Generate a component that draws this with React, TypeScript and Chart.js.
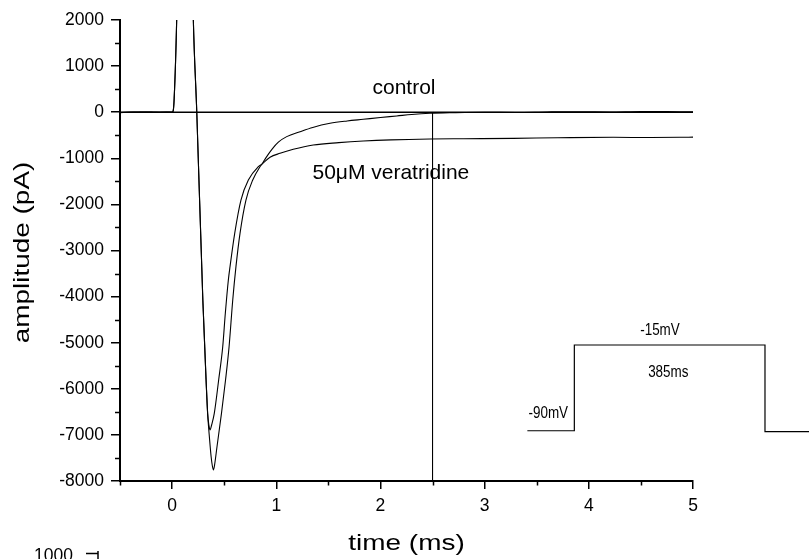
import React, { useEffect, useRef } from "react";
import { Chart, registerables } from "chart.js";

Chart.register(...registerables);

const W = 809;
const H = 559;
const FONT = "'Liberation Sans', Arial, Helvetica, sans-serif";

// ---- data (time in ms, amplitude in pA) ----
const controlTime = [
  -0.5, -0.4, -0.3, -0.2, -0.1, 0, 0.01, 0.02, 0.045, 0.12, 0.204, 0.237, 0.295, 0.326, 0.341,
  0.36, 0.375, 0.387, 0.397, 0.408, 0.431, 0.474, 0.513, 0.547, 0.582, 0.613, 0.652, 0.709,
  0.774, 0.844, 0.863, 0.9, 0.96, 1.02, 1.1, 1.228, 1.35, 1.516, 1.68, 1.835, 2.0, 2.156, 2.3,
  2.476, 2.7, 3.0, 3.3, 3.6, 3.915, 4.2, 4.5, 4.875, 5.0,
];
const controlAmp = [
  -5, 5, -5, 8, 0, 5, 25, 300, 2100, 12000, 2000, 0, -4070, -5800, -6530,
  -7100, -7480, -7680, -7760, -7650, -7256, -6532, -5809, -5087, -4078, -3351, -2627, -1905,
  -1471, -1182, -1125, -990, -800, -650, -530, -423, -330, -241, -190, -154, -115, -82, -50,
  -24, -10, 0, -5, 5, 11, 5, 15, 11, 10,
];
const veraTime = [
  -0.5, -0.4, -0.3, -0.2, -0.1, 0, 0.01, 0.02, 0.045, 0.12, 0.204, 0.237, 0.295, 0.326, 0.341,
  0.354, 0.364, 0.38, 0.405, 0.447, 0.486, 0.511, 0.54, 0.556, 0.601, 0.661, 0.732, 0.828,
  0.863, 0.94, 1.036, 1.163, 1.355, 1.6, 1.835, 2.1, 2.476, 2.8, 3.275, 3.7, 4.235, 4.6, 4.875, 5.0,
];
const veraAmp = [
  -10, 0, 8, -5, 5, 0, 25, 300, 2100, 12000, 2000, 0, -4070, -5800, -6530,
  -6800, -6894, -6780, -6532, -5809, -5087, -4362, -3640, -3351, -2627, -1905, -1471, -1182,
  -1125, -978, -892, -805, -711, -660, -625, -600, -581, -575, -567, -555, -545, -550, -545, -540,
];
// voltage protocol inset (listed right to left)
const protocolTime = [6.2, 5.691, 5.691, 3.861, 3.861, 3.41];
const protocolAmp = [-6930, -6930, -5050, -5050, -6910, -6910];
// reference lines
const zeroTime = [-0.5, 5];
const zeroAmp = [0, 0];
const markerTime = [2.5, 2.5];
const markerAmp = [0, -8000];

// minor ticks
const xMinorTicks = [-0.5, 0.5, 1.5, 2.5, 3.5, 4.5];
const yMinorTicks = [-7500, -6500, -5500, -4500, -3500, -2500, -1500, -500, 500, 1500];

// annotations
const bigLabels = ["control", "50\u03bcM veratridine"];
const bigLabelTime = [2.226, 2.1];
const bigLabelAmp = [525, -1325];
const insetLabels = ["-15mV", "385ms", "-90mV"];
const insetLabelTime = [4.683, 4.763, 3.611];
const insetLabelAmp = [-4740, -5650, -6530];

const xTitle = "time (ms)";
const yTitle = "amplitude (pA)";

const pts = (ts: number[], as: number[]) => ts.map((t, i) => ({ x: t, y: as[i] }));

function drawText(
  ctx: CanvasRenderingContext2D,
  text: string,
  x: number,
  y: number,
  size: number,
  stretch: number,
  angle = 0,
  align: CanvasTextAlign = "center",
  baseline: CanvasTextBaseline = "middle"
) {
  ctx.save();
  ctx.translate(x, y);
  ctx.rotate(angle);
  ctx.scale(stretch, 1);
  ctx.font = `${size}px ${FONT}`;
  ctx.fillStyle = "#000";
  ctx.textAlign = align;
  ctx.textBaseline = baseline;
  ctx.fillText(text, 0, 0);
  ctx.restore();
}

const decorPlugin = {
  id: "decor",
  afterDraw(chart: any) {
    const ctx: CanvasRenderingContext2D = chart.ctx;
    const xs = chart.scales.x;
    const ys = chart.scales.y;
    const { left, right, top, bottom } = chart.chartArea;
    ctx.save();
    ctx.strokeStyle = "#000";
    ctx.lineWidth = 1.5;
    ctx.beginPath();
    xMinorTicks.forEach((v) => {
      const px = Math.round(xs.getPixelForValue(v)) + 0.5;
      ctx.moveTo(px, bottom);
      ctx.lineTo(px, bottom + 4.5);
    });
    yMinorTicks.forEach((v) => {
      const py = Math.round(ys.getPixelForValue(v)) + 0.5;
      ctx.moveTo(left, py);
      ctx.lineTo(left - 5, py);
    });
    ctx.stroke();

    bigLabels.forEach((s, i) => {
      drawText(ctx, s, xs.getPixelForValue(bigLabelTime[i]), ys.getPixelForValue(bigLabelAmp[i]), 21, 1);
    });
    insetLabels.forEach((s, i) => {
      drawText(ctx, s, xs.getPixelForValue(insetLabelTime[i]), ys.getPixelForValue(insetLabelAmp[i]), 16, 0.84);
    });

    // axis titles
    drawText(ctx, xTitle, (left + right) / 2, 544, 22, 1.27);
    drawText(ctx, yTitle, 23, (top + bottom) / 2 + 2, 22, 1.27, -Math.PI / 2);

    // top of the next panel, cut off at the bottom edge
    drawText(ctx, "1000", 73, 561, 17.5, 1, 0, "right", "alphabetic");
    ctx.lineWidth = 1.5;
    ctx.beginPath();
    ctx.moveTo(86, 553.5);
    ctx.lineTo(98, 553.5);
    ctx.moveTo(98, 551);
    ctx.lineTo(98, 559);
    ctx.stroke();
    ctx.restore();
  },
};

export default function App() {
  const ref = useRef<HTMLCanvasElement>(null);

  useEffect(() => {
    const canvas = ref.current;
    if (!canvas) return;
    const trace = {
      borderColor: "#000",
      borderWidth: 1.1,
      pointRadius: 0,
      fill: false,
      cubicInterpolationMode: "monotone" as const,
    };
    const chart = new Chart(canvas, {
      type: "line",
      data: {
        datasets: [
          { ...trace, label: "control", data: pts(controlTime, controlAmp) },
          { ...trace, label: "50\u03bcM veratridine", data: pts(veraTime, veraAmp) },
          { ...trace, label: "zero", data: pts(zeroTime, zeroAmp), borderWidth: 1.6, cubicInterpolationMode: "default" },
          { ...trace, label: "marker", data: pts(markerTime, markerAmp), borderWidth: 1, cubicInterpolationMode: "default" },
          {
            ...trace,
            label: "protocol",
            data: pts(protocolTime, protocolAmp),
            borderWidth: 1.2,
            cubicInterpolationMode: "default",
            clip: false as any,
          },
        ],
      },
      options: {
        responsive: false,
        animation: false,
        devicePixelRatio: 1,
        layout: { padding: { left: 0, top: 20, right: 116, bottom: 0 } },
        plugins: {
          legend: { display: false },
          tooltip: { enabled: false },
        },
        scales: {
          x: {
            type: "linear",
            position: "bottom",
            min: -0.5,
            max: 5,
            afterFit: (s: any) => {
              s.height = 78;
            },
            ticks: {
              stepSize: 1,
              includeBounds: false,
              color: "#000",
              padding: 7,
              maxRotation: 0,
              autoSkip: false,
              font: { family: FONT, size: 17.5 },
              callback: (v: any) => String(v),
            },
            grid: {
              display: true,
              drawOnChartArea: false,
              drawTicks: true,
              tickLength: 8,
              lineWidth: 1.5,
              color: "#000",
            },
            border: { display: true, color: "#000", width: 2 },
          },
          y: {
            type: "linear",
            position: "left",
            min: -8000,
            max: 2000,
            afterFit: (s: any) => {
              s.width = 120;
            },
            ticks: {
              stepSize: 1000,
              color: "#000",
              padding: 7,
              autoSkip: false,
              font: { family: FONT, size: 17.5 },
              callback: (v: any) => String(v),
            },
            grid: {
              display: true,
              drawOnChartArea: false,
              drawTicks: true,
              tickLength: 9,
              lineWidth: 1.5,
              color: "#000",
            },
            border: { display: true, color: "#000", width: 2 },
          },
        },
      } as any,
      plugins: [decorPlugin],
    });
    return () => chart.destroy();
  }, []);

  return (
    <div style={{ position: "fixed", left: 0, top: 0, width: W, height: H, background: "#fff" }}>
      <canvas ref={ref} width={W} height={H} style={{ display: "block", width: W, height: H }} />
    </div>
  );
}
